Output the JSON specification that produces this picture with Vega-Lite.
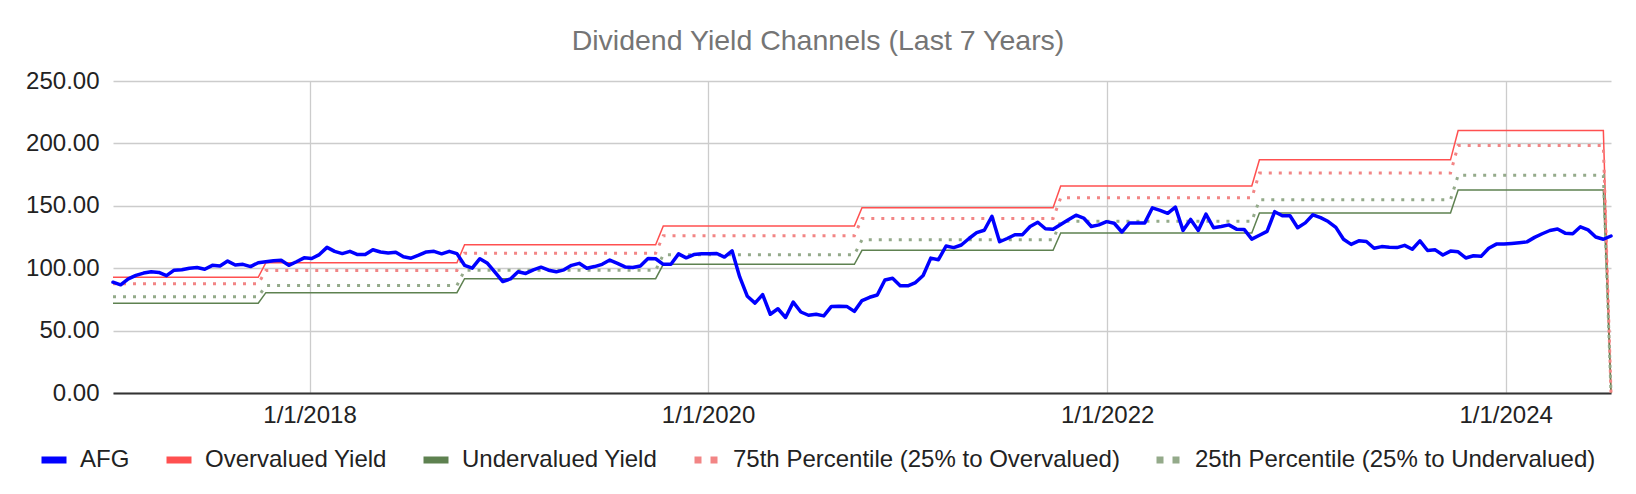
{
"$schema": "https://vega.github.io/schema/vega-lite/v6.json",
"width": 1498,
"height": 312,
"autosize": {"type": "none"},
"padding": {"left": 113, "top": 81, "right": 25, "bottom": 101},
"background": "white",
"title": {"text": "Dividend Yield Channels (Last 7 Years)", "font": "Liberation Sans", "fontSize": 28.5, "fontWeight": "normal", "color": "#757575", "anchor": "middle", "frame": "group", "dx": -44, "offset": 14},
"data": {"values": [
{"date":"2017-01-06","afg":88.8,"over":92.7,"under":71.9,"p75":87.5,"p25":77.1},
{"date":"2017-01-20","afg":86.7,"over":92.7,"under":71.9,"p75":87.5,"p25":77.1},
{"date":"2017-02-03","afg":91.4,"over":92.7,"under":71.9,"p75":87.5,"p25":77.1},
{"date":"2017-02-17","afg":94.3,"over":92.7,"under":71.9,"p75":87.5,"p25":77.1},
{"date":"2017-03-03","afg":96.1,"over":92.7,"under":71.9,"p75":87.5,"p25":77.1},
{"date":"2017-03-17","afg":97.1,"over":92.7,"under":71.9,"p75":87.5,"p25":77.1},
{"date":"2017-03-31","afg":96.6,"over":92.7,"under":71.9,"p75":87.5,"p25":77.1},
{"date":"2017-04-14","afg":94.0,"over":92.7,"under":71.9,"p75":87.5,"p25":77.1},
{"date":"2017-04-28","afg":98.4,"over":92.7,"under":71.9,"p75":87.5,"p25":77.1},
{"date":"2017-05-12","afg":98.7,"over":92.7,"under":71.9,"p75":87.5,"p25":77.1},
{"date":"2017-05-26","afg":100.0,"over":92.7,"under":71.9,"p75":87.5,"p25":77.1},
{"date":"2017-06-09","afg":100.5,"over":92.7,"under":71.9,"p75":87.5,"p25":77.1},
{"date":"2017-06-23","afg":99.2,"over":92.7,"under":71.9,"p75":87.5,"p25":77.1},
{"date":"2017-07-07","afg":102.3,"over":92.7,"under":71.9,"p75":87.5,"p25":77.1},
{"date":"2017-07-21","afg":101.8,"over":92.7,"under":71.9,"p75":87.5,"p25":77.1},
{"date":"2017-08-04","afg":105.7,"over":92.7,"under":71.9,"p75":87.5,"p25":77.1},
{"date":"2017-08-18","afg":102.6,"over":92.7,"under":71.9,"p75":87.5,"p25":77.1},
{"date":"2017-09-01","afg":103.1,"over":92.7,"under":71.9,"p75":87.5,"p25":77.1},
{"date":"2017-09-15","afg":101.3,"over":92.7,"under":71.9,"p75":87.5,"p25":77.1},
{"date":"2017-09-29","afg":104.4,"over":92.7,"under":71.9,"p75":87.5,"p25":77.1},
{"date":"2017-10-13","afg":105.2,"over":104.4,"under":80.4,"p75":98.2,"p25":86.1},
{"date":"2017-10-27","afg":106.0,"over":104.4,"under":80.4,"p75":98.2,"p25":86.1},
{"date":"2017-11-10","afg":106.3,"over":104.4,"under":80.4,"p75":98.2,"p25":86.1},
{"date":"2017-11-24","afg":102.3,"over":104.4,"under":80.4,"p75":98.2,"p25":86.1},
{"date":"2017-12-08","afg":105.2,"over":104.4,"under":80.4,"p75":98.2,"p25":86.1},
{"date":"2017-12-22","afg":108.3,"over":104.4,"under":80.4,"p75":98.2,"p25":86.1},
{"date":"2018-01-05","afg":107.8,"over":104.4,"under":80.4,"p75":98.2,"p25":86.1},
{"date":"2018-01-19","afg":110.9,"over":104.4,"under":80.4,"p75":98.2,"p25":86.1},
{"date":"2018-02-02","afg":116.7,"over":104.4,"under":80.4,"p75":98.2,"p25":86.1},
{"date":"2018-02-16","afg":113.5,"over":104.4,"under":80.4,"p75":98.2,"p25":86.1},
{"date":"2018-03-02","afg":111.7,"over":104.4,"under":80.4,"p75":98.2,"p25":86.1},
{"date":"2018-03-16","afg":113.5,"over":104.4,"under":80.4,"p75":98.2,"p25":86.1},
{"date":"2018-03-30","afg":110.9,"over":104.4,"under":80.4,"p75":98.2,"p25":86.1},
{"date":"2018-04-13","afg":110.9,"over":104.4,"under":80.4,"p75":98.2,"p25":86.1},
{"date":"2018-04-27","afg":114.8,"over":104.4,"under":80.4,"p75":98.2,"p25":86.1},
{"date":"2018-05-11","afg":113.0,"over":104.4,"under":80.4,"p75":98.2,"p25":86.1},
{"date":"2018-05-25","afg":112.2,"over":104.4,"under":80.4,"p75":98.2,"p25":86.1},
{"date":"2018-06-08","afg":112.8,"over":104.4,"under":80.4,"p75":98.2,"p25":86.1},
{"date":"2018-06-22","afg":109.1,"over":104.4,"under":80.4,"p75":98.2,"p25":86.1},
{"date":"2018-07-06","afg":108.0,"over":104.4,"under":80.4,"p75":98.2,"p25":86.1},
{"date":"2018-07-20","afg":110.4,"over":104.4,"under":80.4,"p75":98.2,"p25":86.1},
{"date":"2018-08-03","afg":113.0,"over":104.4,"under":80.4,"p75":98.2,"p25":86.1},
{"date":"2018-08-17","afg":113.5,"over":104.4,"under":80.4,"p75":98.2,"p25":86.1},
{"date":"2018-08-31","afg":111.5,"over":104.4,"under":80.4,"p75":98.2,"p25":86.1},
{"date":"2018-09-14","afg":113.5,"over":104.4,"under":80.4,"p75":98.2,"p25":86.1},
{"date":"2018-09-28","afg":111.7,"over":104.4,"under":80.4,"p75":98.2,"p25":86.1},
{"date":"2018-10-12","afg":102.3,"over":118.8,"under":91.6,"p75":112.0,"p25":98.4},
{"date":"2018-10-26","afg":100.0,"over":118.8,"under":91.6,"p75":112.0,"p25":98.4},
{"date":"2018-11-09","afg":107.6,"over":118.8,"under":91.6,"p75":112.0,"p25":98.4},
{"date":"2018-11-23","afg":103.9,"over":118.8,"under":91.6,"p75":112.0,"p25":98.4},
{"date":"2018-12-07","afg":96.6,"over":118.8,"under":91.6,"p75":112.0,"p25":98.4},
{"date":"2018-12-21","afg":89.3,"over":118.8,"under":91.6,"p75":112.0,"p25":98.4},
{"date":"2019-01-04","afg":91.4,"over":118.8,"under":91.6,"p75":112.0,"p25":98.4},
{"date":"2019-01-18","afg":97.1,"over":118.8,"under":91.6,"p75":112.0,"p25":98.4},
{"date":"2019-02-01","afg":95.8,"over":118.8,"under":91.6,"p75":112.0,"p25":98.4},
{"date":"2019-02-15","afg":98.7,"over":118.8,"under":91.6,"p75":112.0,"p25":98.4},
{"date":"2019-03-01","afg":100.8,"over":118.8,"under":91.6,"p75":112.0,"p25":98.4},
{"date":"2019-03-15","afg":98.4,"over":118.8,"under":91.6,"p75":112.0,"p25":98.4},
{"date":"2019-03-29","afg":97.1,"over":118.8,"under":91.6,"p75":112.0,"p25":98.4},
{"date":"2019-04-12","afg":98.7,"over":118.8,"under":91.6,"p75":112.0,"p25":98.4},
{"date":"2019-04-26","afg":102.3,"over":118.8,"under":91.6,"p75":112.0,"p25":98.4},
{"date":"2019-05-10","afg":103.9,"over":118.8,"under":91.6,"p75":112.0,"p25":98.4},
{"date":"2019-05-24","afg":100.0,"over":118.8,"under":91.6,"p75":112.0,"p25":98.4},
{"date":"2019-06-07","afg":101.3,"over":118.8,"under":91.6,"p75":112.0,"p25":98.4},
{"date":"2019-06-21","afg":103.1,"over":118.8,"under":91.6,"p75":112.0,"p25":98.4},
{"date":"2019-07-05","afg":106.5,"over":118.8,"under":91.6,"p75":112.0,"p25":98.4},
{"date":"2019-07-19","afg":103.9,"over":118.8,"under":91.6,"p75":112.0,"p25":98.4},
{"date":"2019-08-02","afg":101.0,"over":118.8,"under":91.6,"p75":112.0,"p25":98.4},
{"date":"2019-08-16","afg":100.5,"over":118.8,"under":91.6,"p75":112.0,"p25":98.4},
{"date":"2019-08-30","afg":101.8,"over":118.8,"under":91.6,"p75":112.0,"p25":98.4},
{"date":"2019-09-13","afg":107.8,"over":118.8,"under":91.6,"p75":112.0,"p25":98.4},
{"date":"2019-09-27","afg":107.6,"over":118.8,"under":91.6,"p75":112.0,"p25":98.4},
{"date":"2019-10-11","afg":103.1,"over":133.8,"under":103.1,"p75":126.1,"p25":110.8},
{"date":"2019-10-25","afg":103.1,"over":133.8,"under":103.1,"p75":126.1,"p25":110.8},
{"date":"2019-11-08","afg":111.5,"over":133.8,"under":103.1,"p75":126.1,"p25":110.8},
{"date":"2019-11-22","afg":108.3,"over":133.8,"under":103.1,"p75":126.1,"p25":110.8},
{"date":"2019-12-06","afg":110.9,"over":133.8,"under":103.1,"p75":126.1,"p25":110.8},
{"date":"2019-12-20","afg":111.5,"over":133.8,"under":103.1,"p75":126.1,"p25":110.8},
{"date":"2020-01-03","afg":111.6,"over":133.8,"under":103.1,"p75":126.1,"p25":110.8},
{"date":"2020-01-17","afg":111.8,"over":133.8,"under":103.1,"p75":126.1,"p25":110.8},
{"date":"2020-01-31","afg":108.9,"over":133.8,"under":103.1,"p75":126.1,"p25":110.8},
{"date":"2020-02-14","afg":113.9,"over":133.8,"under":103.1,"p75":126.1,"p25":110.8},
{"date":"2020-02-28","afg":93.0,"over":133.8,"under":103.1,"p75":126.1,"p25":110.8},
{"date":"2020-03-13","afg":77.5,"over":133.8,"under":103.1,"p75":126.1,"p25":110.8},
{"date":"2020-03-27","afg":72.0,"over":133.8,"under":103.1,"p75":126.1,"p25":110.8},
{"date":"2020-04-10","afg":78.8,"over":133.8,"under":103.1,"p75":126.1,"p25":110.8},
{"date":"2020-04-24","afg":63.1,"over":133.8,"under":103.1,"p75":126.1,"p25":110.8},
{"date":"2020-05-08","afg":67.5,"over":133.8,"under":103.1,"p75":126.1,"p25":110.8},
{"date":"2020-05-22","afg":60.5,"over":133.8,"under":103.1,"p75":126.1,"p25":110.8},
{"date":"2020-06-05","afg":72.8,"over":133.8,"under":103.1,"p75":126.1,"p25":110.8},
{"date":"2020-06-19","afg":64.9,"over":133.8,"under":103.1,"p75":126.1,"p25":110.8},
{"date":"2020-07-03","afg":62.3,"over":133.8,"under":103.1,"p75":126.1,"p25":110.8},
{"date":"2020-07-17","afg":63.1,"over":133.8,"under":103.1,"p75":126.1,"p25":110.8},
{"date":"2020-07-31","afg":61.8,"over":133.8,"under":103.1,"p75":126.1,"p25":110.8},
{"date":"2020-08-14","afg":69.4,"over":133.8,"under":103.1,"p75":126.1,"p25":110.8},
{"date":"2020-08-28","afg":69.6,"over":133.8,"under":103.1,"p75":126.1,"p25":110.8},
{"date":"2020-09-11","afg":69.4,"over":133.8,"under":103.1,"p75":126.1,"p25":110.8},
{"date":"2020-09-25","afg":65.4,"over":133.8,"under":103.1,"p75":126.1,"p25":110.8},
{"date":"2020-10-09","afg":74.1,"over":148.4,"under":114.3,"p75":139.9,"p25":122.8},
{"date":"2020-10-23","afg":76.7,"over":148.4,"under":114.3,"p75":139.9,"p25":122.8},
{"date":"2020-11-06","afg":78.5,"over":148.4,"under":114.3,"p75":139.9,"p25":122.8},
{"date":"2020-11-20","afg":90.6,"over":148.4,"under":114.3,"p75":139.9,"p25":122.8},
{"date":"2020-12-04","afg":91.9,"over":148.4,"under":114.3,"p75":139.9,"p25":122.8},
{"date":"2020-12-18","afg":85.9,"over":148.4,"under":114.3,"p75":139.9,"p25":122.8},
{"date":"2021-01-01","afg":85.9,"over":148.4,"under":114.3,"p75":139.9,"p25":122.8},
{"date":"2021-01-15","afg":88.5,"over":148.4,"under":114.3,"p75":139.9,"p25":122.8},
{"date":"2021-01-29","afg":94.2,"over":148.4,"under":114.3,"p75":139.9,"p25":122.8},
{"date":"2021-02-12","afg":108.1,"over":148.4,"under":114.3,"p75":139.9,"p25":122.8},
{"date":"2021-02-26","afg":106.8,"over":148.4,"under":114.3,"p75":139.9,"p25":122.8},
{"date":"2021-03-12","afg":117.8,"over":148.4,"under":114.3,"p75":139.9,"p25":122.8},
{"date":"2021-03-26","afg":116.5,"over":148.4,"under":114.3,"p75":139.9,"p25":122.8},
{"date":"2021-04-09","afg":118.6,"over":148.4,"under":114.3,"p75":139.9,"p25":122.8},
{"date":"2021-04-23","afg":123.8,"over":148.4,"under":114.3,"p75":139.9,"p25":122.8},
{"date":"2021-05-07","afg":128.5,"over":148.4,"under":114.3,"p75":139.9,"p25":122.8},
{"date":"2021-05-21","afg":130.4,"over":148.4,"under":114.3,"p75":139.9,"p25":122.8},
{"date":"2021-06-04","afg":141.6,"over":148.4,"under":114.3,"p75":139.9,"p25":122.8},
{"date":"2021-06-18","afg":121.2,"over":148.4,"under":114.3,"p75":139.9,"p25":122.8},
{"date":"2021-07-02","afg":123.8,"over":148.4,"under":114.3,"p75":139.9,"p25":122.8},
{"date":"2021-07-16","afg":126.8,"over":148.4,"under":114.3,"p75":139.9,"p25":122.8},
{"date":"2021-07-30","afg":126.9,"over":148.4,"under":114.3,"p75":139.9,"p25":122.8},
{"date":"2021-08-13","afg":133.4,"over":148.4,"under":114.3,"p75":139.9,"p25":122.8},
{"date":"2021-08-27","afg":136.8,"over":148.4,"under":114.3,"p75":139.9,"p25":122.8},
{"date":"2021-09-10","afg":131.6,"over":148.4,"under":114.3,"p75":139.9,"p25":122.8},
{"date":"2021-09-24","afg":131.3,"over":148.4,"under":114.3,"p75":139.9,"p25":122.8},
{"date":"2021-10-08","afg":135.0,"over":165.8,"under":128.2,"p75":156.4,"p25":137.6},
{"date":"2021-10-22","afg":138.9,"over":165.8,"under":128.2,"p75":156.4,"p25":137.6},
{"date":"2021-11-05","afg":142.5,"over":165.8,"under":128.2,"p75":156.4,"p25":137.6},
{"date":"2021-11-19","afg":140.2,"over":165.8,"under":128.2,"p75":156.4,"p25":137.6},
{"date":"2021-12-03","afg":133.4,"over":165.8,"under":128.2,"p75":156.4,"p25":137.6},
{"date":"2021-12-17","afg":134.7,"over":165.8,"under":128.2,"p75":156.4,"p25":137.6},
{"date":"2021-12-31","afg":137.3,"over":165.8,"under":128.2,"p75":156.4,"p25":137.6},
{"date":"2022-01-14","afg":136.0,"over":165.8,"under":128.2,"p75":156.4,"p25":137.6},
{"date":"2022-01-28","afg":129.0,"over":165.8,"under":128.2,"p75":156.4,"p25":137.6},
{"date":"2022-02-11","afg":136.3,"over":165.8,"under":128.2,"p75":156.4,"p25":137.6},
{"date":"2022-02-25","afg":136.3,"over":165.8,"under":128.2,"p75":156.4,"p25":137.6},
{"date":"2022-03-11","afg":136.3,"over":165.8,"under":128.2,"p75":156.4,"p25":137.6},
{"date":"2022-03-25","afg":148.4,"over":165.8,"under":128.2,"p75":156.4,"p25":137.6},
{"date":"2022-04-08","afg":146.4,"over":165.8,"under":128.2,"p75":156.4,"p25":137.6},
{"date":"2022-04-22","afg":144.0,"over":165.8,"under":128.2,"p75":156.4,"p25":137.6},
{"date":"2022-05-06","afg":149.0,"over":165.8,"under":128.2,"p75":156.4,"p25":137.6},
{"date":"2022-05-20","afg":130.3,"over":165.8,"under":128.2,"p75":156.4,"p25":137.6},
{"date":"2022-06-03","afg":139.1,"over":165.8,"under":128.2,"p75":156.4,"p25":137.6},
{"date":"2022-06-17","afg":130.3,"over":165.8,"under":128.2,"p75":156.4,"p25":137.6},
{"date":"2022-07-01","afg":143.3,"over":165.8,"under":128.2,"p75":156.4,"p25":137.6},
{"date":"2022-07-15","afg":132.4,"over":165.8,"under":128.2,"p75":156.4,"p25":137.6},
{"date":"2022-07-29","afg":133.4,"over":165.8,"under":128.2,"p75":156.4,"p25":137.6},
{"date":"2022-08-12","afg":134.7,"over":165.8,"under":128.2,"p75":156.4,"p25":137.6},
{"date":"2022-08-26","afg":131.3,"over":165.8,"under":128.2,"p75":156.4,"p25":137.6},
{"date":"2022-09-09","afg":131.1,"over":165.8,"under":128.2,"p75":156.4,"p25":137.6},
{"date":"2022-09-23","afg":123.3,"over":165.8,"under":128.2,"p75":156.4,"p25":137.6},
{"date":"2022-10-07","afg":126.4,"over":186.8,"under":144.2,"p75":176.2,"p25":154.8},
{"date":"2022-10-21","afg":129.5,"over":186.8,"under":144.2,"p75":176.2,"p25":154.8},
{"date":"2022-11-04","afg":145.3,"over":186.8,"under":144.2,"p75":176.2,"p25":154.8},
{"date":"2022-11-18","afg":142.0,"over":186.8,"under":144.2,"p75":176.2,"p25":154.8},
{"date":"2022-12-02","afg":142.0,"over":186.8,"under":144.2,"p75":176.2,"p25":154.8},
{"date":"2022-12-16","afg":132.4,"over":186.8,"under":144.2,"p75":176.2,"p25":154.8},
{"date":"2022-12-30","afg":136.3,"over":186.8,"under":144.2,"p75":176.2,"p25":154.8},
{"date":"2023-01-13","afg":142.8,"over":186.8,"under":144.2,"p75":176.2,"p25":154.8},
{"date":"2023-01-27","afg":140.5,"over":186.8,"under":144.2,"p75":176.2,"p25":154.8},
{"date":"2023-02-10","afg":137.4,"over":186.8,"under":144.2,"p75":176.2,"p25":154.8},
{"date":"2023-02-24","afg":132.7,"over":186.8,"under":144.2,"p75":176.2,"p25":154.8},
{"date":"2023-03-10","afg":123.2,"over":186.8,"under":144.2,"p75":176.2,"p25":154.8},
{"date":"2023-03-24","afg":119.1,"over":186.8,"under":144.2,"p75":176.2,"p25":154.8},
{"date":"2023-04-07","afg":121.9,"over":186.8,"under":144.2,"p75":176.2,"p25":154.8},
{"date":"2023-04-21","afg":121.4,"over":186.8,"under":144.2,"p75":176.2,"p25":154.8},
{"date":"2023-05-05","afg":116.0,"over":186.8,"under":144.2,"p75":176.2,"p25":154.8},
{"date":"2023-05-19","afg":117.3,"over":186.8,"under":144.2,"p75":176.2,"p25":154.8},
{"date":"2023-06-02","afg":116.8,"over":186.8,"under":144.2,"p75":176.2,"p25":154.8},
{"date":"2023-06-16","afg":116.5,"over":186.8,"under":144.2,"p75":176.2,"p25":154.8},
{"date":"2023-06-30","afg":118.3,"over":186.8,"under":144.2,"p75":176.2,"p25":154.8},
{"date":"2023-07-14","afg":115.2,"over":186.8,"under":144.2,"p75":176.2,"p25":154.8},
{"date":"2023-07-28","afg":121.9,"over":186.8,"under":144.2,"p75":176.2,"p25":154.8},
{"date":"2023-08-11","afg":114.2,"over":186.8,"under":144.2,"p75":176.2,"p25":154.8},
{"date":"2023-08-25","afg":114.7,"over":186.8,"under":144.2,"p75":176.2,"p25":154.8},
{"date":"2023-09-08","afg":110.6,"over":186.8,"under":144.2,"p75":176.2,"p25":154.8},
{"date":"2023-09-22","afg":113.7,"over":186.8,"under":144.2,"p75":176.2,"p25":154.8},
{"date":"2023-10-06","afg":113.1,"over":210.3,"under":162.6,"p75":198.4,"p25":174.5},
{"date":"2023-10-20","afg":108.2,"over":210.3,"under":162.6,"p75":198.4,"p25":174.5},
{"date":"2023-11-03","afg":110.0,"over":210.3,"under":162.6,"p75":198.4,"p25":174.5},
{"date":"2023-11-17","afg":109.5,"over":210.3,"under":162.6,"p75":198.4,"p25":174.5},
{"date":"2023-12-01","afg":116.0,"over":210.3,"under":162.6,"p75":198.4,"p25":174.5},
{"date":"2023-12-15","afg":119.3,"over":210.3,"under":162.6,"p75":198.4,"p25":174.5},
{"date":"2023-12-29","afg":119.3,"over":210.3,"under":162.6,"p75":198.4,"p25":174.5},
{"date":"2024-01-12","afg":119.8,"over":210.3,"under":162.6,"p75":198.4,"p25":174.5},
{"date":"2024-01-26","afg":120.4,"over":210.3,"under":162.6,"p75":198.4,"p25":174.5},
{"date":"2024-02-09","afg":121.1,"over":210.3,"under":162.6,"p75":198.4,"p25":174.5},
{"date":"2024-02-23","afg":124.7,"over":210.3,"under":162.6,"p75":198.4,"p25":174.5},
{"date":"2024-03-08","afg":127.6,"over":210.3,"under":162.6,"p75":198.4,"p25":174.5},
{"date":"2024-03-22","afg":130.2,"over":210.3,"under":162.6,"p75":198.4,"p25":174.5},
{"date":"2024-04-05","afg":131.4,"over":210.3,"under":162.6,"p75":198.4,"p25":174.5},
{"date":"2024-04-19","afg":128.1,"over":210.3,"under":162.6,"p75":198.4,"p25":174.5},
{"date":"2024-05-03","afg":127.6,"over":210.3,"under":162.6,"p75":198.4,"p25":174.5},
{"date":"2024-05-17","afg":133.2,"over":210.3,"under":162.6,"p75":198.4,"p25":174.5},
{"date":"2024-05-31","afg":130.7,"over":210.3,"under":162.6,"p75":198.4,"p25":174.5},
{"date":"2024-06-14","afg":125.0,"over":210.3,"under":162.6,"p75":198.4,"p25":174.5},
{"date":"2024-06-28","afg":123.2,"over":210.3,"under":162.6,"p75":198.4,"p25":174.5},
{"date":"2024-07-12","afg":125.8,"over":0,"under":0,"p75":0,"p25":0}
]},
"encoding": {
  "x": {"field": "date", "type": "temporal",
    "scale": {"type": "utc", "nice": false, "domain": [{"year": 2017, "month": 1, "date": 6, "utc": true}, {"year": 2024, "month": 7, "date": 12, "utc": true}]},
    "axis": {"title": null, "values": [{"year": 2018, "month": 1, "date": 1, "utc": true}, {"year": 2020, "month": 1, "date": 1, "utc": true}, {"year": 2022, "month": 1, "date": 1, "utc": true}, {"year": 2024, "month": 1, "date": 1, "utc": true}],
      "labelExpr": "utcFormat(datum.value, '%-m/%-d/%Y')", "grid": true, "ticks": false, "domain": true, "domainColor": "#333333", "domainWidth": 2, "labelPadding": 10, "labelFlush": false, "labelOverlap": false}}
},
"layer": [
  {"mark": {"type": "line", "strokeWidth": 1.5},
   "encoding": {
     "y": {"field": "over", "type": "quantitative", "scale": {"domain": [0, 250], "nice": false},
       "axis": {"title": null, "values": [0, 50, 100, 150, 200, 250], "format": ".2f", "grid": true, "ticks": false, "domain": false, "labelPadding": 14}},
     "color": {"datum": "Overvalued Yield",
       "scale": {"domain": ["AFG", "Overvalued Yield", "Undervalued Yield", "75th Percentile (25% to Overvalued)", "25th Percentile (25% to Undervalued)"], "range": ["#0000ff", "#ff5050", "#5e8150", "#f28585", "#94aa8a"]},
       "legend": {"title": null, "orient": "none", "legendX": -75, "legendY": 363, "direction": "horizontal",
         "symbolType": "stroke", "symbolSize": 625, "symbolStrokeWidth": 7,
         "labelFont": "Liberation Sans", "labelFontSize": 24, "labelColor": "#222222", "labelLimit": 1000, "labelOffset": 10, "columnPadding": 22,
         "encode": {"symbols": {"update": {"strokeWidth": {"value": 7}, "strokeDash": {"signal": "(datum.value == '75th Percentile (25% to Overvalued)' || datum.value == '25th Percentile (25% to Undervalued)') ? [7, 9] : [1, 0]"}}}}}}
   }},
  {"mark": {"type": "line", "strokeWidth": 1.5},
   "encoding": {
     "y": {"field": "under", "type": "quantitative",
       "axis": {"title": null, "values": [0, 50, 100, 150, 200, 250], "format": ".2f", "grid": true, "ticks": false, "domain": false, "labelPadding": 14}},
     "color": {"datum": "Undervalued Yield"}
   }},
  {"mark": {"type": "line", "strokeWidth": 3, "strokeDash": [3, 7]},
   "encoding": {
     "y": {"field": "p75", "type": "quantitative",
       "axis": {"title": null, "values": [0, 50, 100, 150, 200, 250], "format": ".2f", "grid": true, "ticks": false, "domain": false, "labelPadding": 14}},
     "color": {"datum": "75th Percentile (25% to Overvalued)"}
   }},
  {"mark": {"type": "line", "strokeWidth": 3, "strokeDash": [3, 7]},
   "encoding": {
     "y": {"field": "p25", "type": "quantitative",
       "axis": {"title": null, "values": [0, 50, 100, 150, 200, 250], "format": ".2f", "grid": true, "ticks": false, "domain": false, "labelPadding": 14}},
     "color": {"datum": "25th Percentile (25% to Undervalued)"}
   }},
  {"mark": {"type": "line", "strokeWidth": 3.5, "strokeJoin": "round", "strokeCap": "round"},
   "encoding": {
     "y": {"field": "afg", "type": "quantitative",
       "axis": {"title": null, "values": [0, 50, 100, 150, 200, 250], "format": ".2f", "grid": true, "ticks": false, "domain": false, "labelPadding": 14}},
     "color": {"datum": "AFG"}
   }}
],
"config": {
  "view": {"stroke": null},
  "axis": {"labelFont": "Liberation Sans", "labelFontSize": 24, "labelColor": "#222222", "gridColor": "#cccccc", "gridWidth": 1.3}
}
}
